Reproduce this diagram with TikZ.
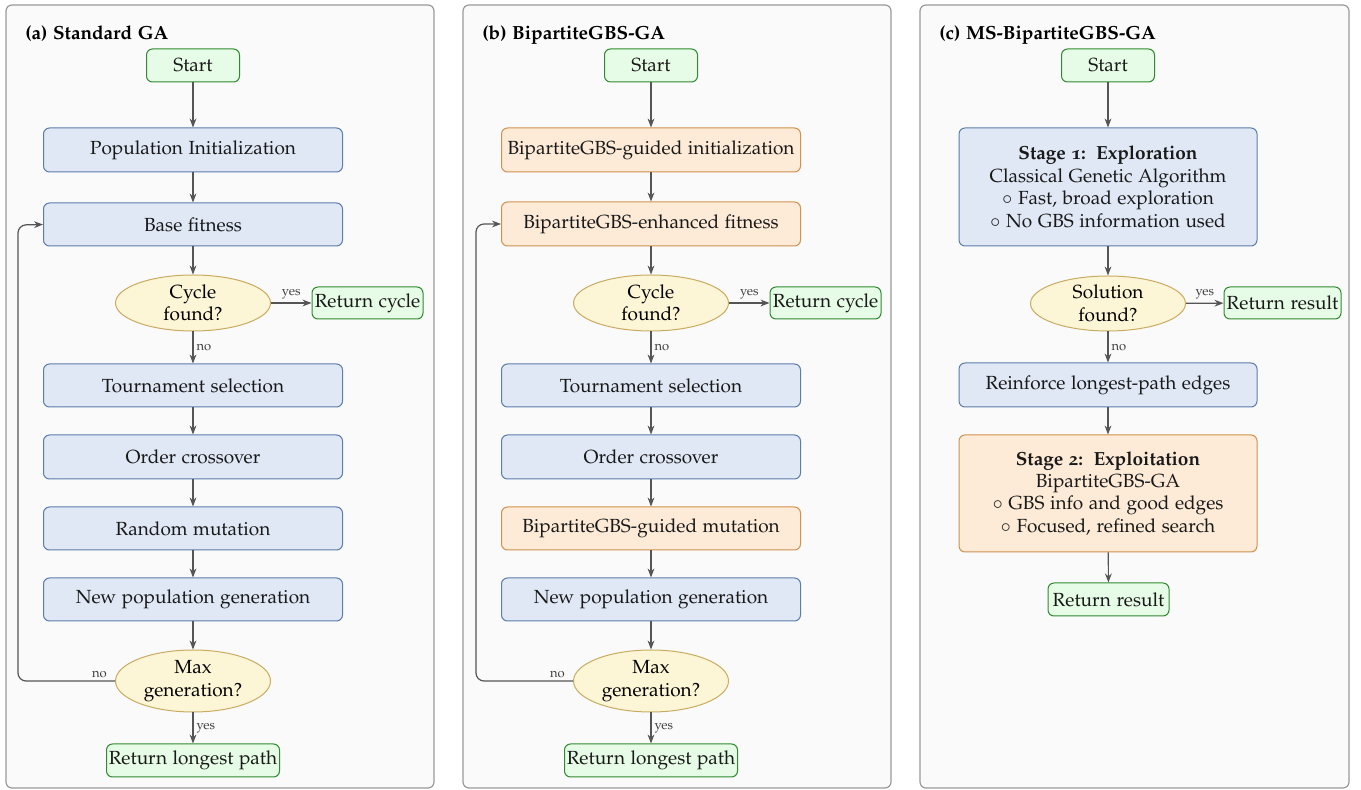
\documentclass[tikz,border=0pt]{standalone}
\usepackage[T1]{fontenc}
\usepackage[osf]{mathpazo}
\usetikzlibrary{shapes.geometric,arrows.meta}
\definecolor{bluef}{HTML}{E0E8F5}
\definecolor{blued}{HTML}{5B7DAA}
\definecolor{orangef}{HTML}{FDEBD8}
\definecolor{oranged}{HTML}{D0914E}
\definecolor{greenf}{HTML}{E6FCE6}
\definecolor{greend}{HTML}{2F8A2F}
\definecolor{yellowf}{HTML}{FCF5D6}
\definecolor{yellowd}{HTML}{C9AC62}
\definecolor{panelf}{HTML}{FAFAFA}
\definecolor{paneld}{HTML}{9A9A9A}
\definecolor{arrc}{HTML}{555555}
\tikzset{
  basebox/.style={draw, rounded corners=3pt, line width=0.5pt, inner sep=0pt, align=center,
    font=\fontsize{9.5}{11.2}\selectfont, text=black!90},
  bluebox/.style={basebox, fill=bluef, draw=blued, minimum width=149.5pt, minimum height=22pt},
  orangebox/.style={basebox, fill=orangef, draw=oranged, minimum width=149.5pt, minimum height=22pt},
  greenbox/.style={basebox, fill=greenf, draw=greend, minimum height=16.5pt},
  decision/.style={ellipse, draw=yellowd, fill=yellowf, line width=0.5pt, inner sep=0pt, align=center,
    font=\fontsize{9.5}{11.2}\selectfont, minimum width=77.5pt, minimum height=28pt},
  panel/.style={draw=paneld, fill=panelf, rounded corners=3pt, line width=0.6pt},
  conn/.style={draw=arrc, line width=0.6pt, -{Stealth[length=4.5pt,width=3.4pt]}},
  lbl/.style={font=\fontsize{6.5}{7}\selectfont, text=black!75, inner sep=1.5pt},
  ptitle/.style={font=\bfseries\fontsize{9.5}{11}\selectfont, anchor=base west, inner sep=0pt}
}
\begin{document}
\begin{tikzpicture}[x=0.5pt,y=-0.5pt]
\useasboundingbox (0,0) rectangle (1361,790);
% panels
\draw[panel] (6,5) rectangle (434,788);
\draw[panel] (463,5) rectangle (891,788);
\draw[panel] (920,5) rectangle (1349,788);
\node[ptitle] (ta) at (25,40) {(a) Standard GA};
\node[ptitle] (tb) at (482,40) {(b) BipartiteGBS-GA};
\node[ptitle] (tc) at (939,40) {(c) MS-BipartiteGBS-GA};

% ---------- panel (a)
\node[greenbox, minimum width=46.5pt] (startA) at (193,65.5) {Start};
\node[bluebox, minimum height=22pt] (initA) at (193,150) {Population Initialization};
\node[bluebox, minimum height=21.5pt] (fitA) at (193,224.5) {Base fitness};
\node[decision] (cycA) at (193,303) {Cycle\\found?};
\node[greenbox, minimum width=55.5pt, minimum height=16pt] (retcA) at (367.5,303) {Return cycle};
\node[bluebox, minimum height=21.5pt] (tourA) at (193,385.5) {Tournament selection};
\node[bluebox] (crossA) at (193,457) {Order crossover};
\node[bluebox, minimum height=21.5pt] (mutA) at (193,528.5) {Random mutation};
\node[bluebox, minimum height=21.5pt] (newA) at (193,599.5) {New population generation};
\node[decision, minimum height=31pt] (maxA) at (193,681) {Max\\generation?};
\node[greenbox, minimum width=86.5pt] (retlA) at (193,760.5) {Return longest path};
\coordinate (loopA1) at (18,681);
\coordinate (loopA2) at (18,225);
\draw[conn] (startA) -- (initA);
\draw[conn] (initA) -- (fitA);
\draw[conn] (fitA) -- (cycA);
\draw[conn] (cycA) -- node[lbl, above] {yes} (retcA);
\draw[conn] (cycA) -- node[lbl, right] {no} (tourA);
\draw[conn] (tourA) -- (crossA);
\draw[conn] (crossA) -- (mutA);
\draw[conn] (mutA) -- (newA);
\draw[conn] (newA) -- (maxA);
\draw[conn] (maxA) -- node[lbl, right] {yes} (retlA);
\draw[conn, rounded corners=4pt] (maxA.west) -- node[lbl, above, pos=0.16] {no} (loopA1) -- (loopA2) -- (fitA.west);

% ---------- panel (b)
\node[greenbox, minimum width=46.5pt] (startB) at (651,65.5) {Start};
\node[orangebox] (initB) at (651,150) {BipartiteGBS-guided initialization};
\node[orangebox] (fitB) at (651,224) {BipartiteGBS-enhanced fitness};
\node[decision] (cycB) at (651,303) {Cycle\\found?};
\node[greenbox, minimum width=55.5pt, minimum height=16pt] (retcB) at (825.5,303) {Return cycle};
\node[bluebox, minimum height=21.5pt] (tourB) at (651,385.5) {Tournament selection};
\node[bluebox] (crossB) at (651,457) {Order crossover};
\node[orangebox, minimum height=21.5pt] (mutB) at (651,528.5) {BipartiteGBS-guided mutation};
\node[bluebox, minimum height=21.5pt] (newB) at (651,599.5) {New population generation};
\node[decision, minimum height=31pt] (maxB) at (651,681) {Max\\generation?};
\node[greenbox, minimum width=86.5pt] (retlB) at (651,760.5) {Return longest path};
\coordinate (loopB1) at (476,681);
\coordinate (loopB2) at (476,224);
\draw[conn] (startB) -- (initB);
\draw[conn] (initB) -- (fitB);
\draw[conn] (fitB) -- (cycB);
\draw[conn] (cycB) -- node[lbl, above] {yes} (retcB);
\draw[conn] (cycB) -- node[lbl, right] {no} (tourB);
\draw[conn] (tourB) -- (crossB);
\draw[conn] (crossB) -- (mutB);
\draw[conn] (mutB) -- (newB);
\draw[conn] (newB) -- (maxB);
\draw[conn] (maxB) -- node[lbl, right] {yes} (retlB);
\draw[conn, rounded corners=4pt] (maxB.west) -- node[lbl, above, pos=0.16] {no} (loopB1) -- (loopB2) -- (fitB.west);

% ---------- panel (c)
\node[greenbox, minimum width=46.5pt] (startC) at (1108,65.5) {Start};
\node[bluebox, minimum width=149pt, minimum height=59pt] (st1) at (1108,187)
  {\textbf{Stage 1:\hspace{0.55em}Exploration}\\Classical Genetic Algorithm\\$\circ$ Fast, broad exploration\\$\circ$ No GBS information used};
\node[decision, minimum height=27.5pt] (solC) at (1108,303.5) {Solution\\found?};
\node[greenbox, minimum width=58.5pt, minimum height=16pt] (retrC) at (1282.5,303) {Return result};
\node[bluebox, minimum width=149pt, minimum height=22pt] (reinf) at (1108,385) {Reinforce longest-path edges};
\node[orangebox, minimum width=149pt, minimum height=58.5pt] (st2) at (1108,493.5)
  {\textbf{Stage 2:\hspace{0.55em}Exploitation}\\BipartiteGBS-GA\\$\circ$ GBS info and good edges\\$\circ$ Focused, refined search};
\node[greenbox, minimum width=60.5pt] (retC2) at (1108.5,599.5) {Return result};
\draw[conn] (startC) -- (st1);
\draw[conn] (st1) -- (solC);
\draw[conn] (solC) -- node[lbl, above] {yes} (retrC);
\draw[conn] (solC) -- node[lbl, right] {no} (reinf);
\draw[conn] (reinf) -- (st2);
\draw[conn] (st2) -- (retC2);
\end{tikzpicture}
\end{document}
